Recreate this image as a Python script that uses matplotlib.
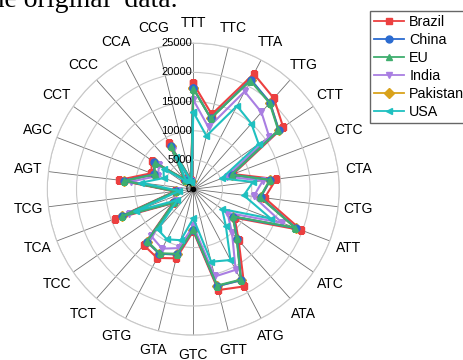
import numpy as np
import matplotlib
matplotlib.use("Agg")
import matplotlib.pyplot as plt
from matplotlib.transforms import offset_copy
from matplotlib.lines import Line2D

# codon categories, clockwise from top
codons = ["TTT", "TTC", "TTA", "TTG", "CTT", "CTC", "CTA", "CTG", "ATT", "ATC",
          "ATA", "ATG", "GTT", "GTC", "GTA", "GTG", "TCT", "TCC", "TCA", "TCG",
          "AGT", "AGC", "CCT", "CCC", "CCA", "CCG"]

brazil = [18100, 13200, 22300, 20800, 18700, 7300, 14300, 12300, 19800, 8600,
          11700, 18800, 17800, 7200, 12200, 13300, 12800, 4200, 14300, 3200,
          12900, 7700, 8600, 2300, 9000, 1600]
china = [17300, 12500, 21200, 19800, 17800, 7000, 13300, 11600, 18800, 8300,
         11300, 17600, 17100, 7000, 11500, 12500, 12000, 4000, 13100, 3000,
         12000, 7200, 8100, 2200, 8400, 1500]
eu = [17200, 12500, 21000, 19700, 17700, 7000, 13200, 11500, 18700, 8200,
      11200, 17500, 17000, 6900, 11400, 12400, 11900, 4000, 13000, 3000,
      11900, 7100, 8000, 2200, 8300, 1500]
india = [15300, 10900, 18900, 17600, 15800, 6100, 12000, 10400, 16300, 7100,
         10000, 15600, 15400, 6300, 10400, 11500, 10800, 3700, 11800, 2700,
         10800, 6400, 7200, 2000, 7600, 1400]
pakistan = [17300, 12500, 21100, 19800, 17800, 7000, 13300, 11600, 18800, 8300,
            11300, 17600, 17100, 7000, 11500, 12500, 12000, 4000, 13100, 3000,
            12000, 7200, 8100, 2200, 8400, 1500]
usa = [13200, 9400, 16100, 15000, 13600, 5200, 10300, 8700, 14200, 6000,
       8400, 13700, 12800, 5000, 9000, 9700, 9200, 3300, 10500, 2400,
       9100, 5400, 6200, 1800, 6200, 1300]

series = ["Brazil", "China", "EU", "India", "Pakistan", "USA"]
values = [brazil, china, eu, india, pakistan, usa]
colors = ["#EC4040", "#2B6BD0", "#3FAE6E", "#A97EE2", "#D9A21B", "#1FC0C0"]
markers = ["s", "o", "^", "v", "D", "<"]
layers = [3, 5, 6, 4, 2, 7]   # pakistan sits under the others
rings = [0, 5000, 10000, 15000, 20000, 25000]

n = len(codons)
theta = np.arange(n) * 2 * np.pi / n

fig = plt.figure(figsize=(4.63, 3.6), dpi=100)
ax = fig.add_axes([0.102, 0.069, 0.631, 0.811], projection="polar")
ax.set_theta_zero_location("N")
ax.set_theta_direction(-1)
ax.set_ylim(0, 25000)

for name, vals, c, m, z in zip(series, values, colors, markers, layers):
    t = np.append(theta, theta[0])
    v = np.append(vals, vals[0])
    ax.plot(t, v, color=c, marker=m, markersize=5, linewidth=1.5, label=name,
            zorder=z)

ax.set_yticks(rings[1:])
ax.set_yticklabels([])
ax.yaxis.grid(True, color="#c8c8c8", linewidth=0.8)
ax.set_xticks(theta)
ax.set_xticklabels(codons, fontsize=10, family="Liberation Sans")
ax.tick_params(axis="x", pad=4)
ax.xaxis.grid(True, color="#707070", linewidth=0.6)
ax.spines["polar"].set_color("#c8c8c8")
ax.spines["polar"].set_linewidth(0.8)

# radial labels along the top spoke
tr = offset_copy(ax.transData, fig=fig, x=-1, y=0, units="points")
for r in rings:
    ax.text(0, r, str(r), transform=tr, ha="right", va="center", fontsize=8,
            family="Liberation Sans", zorder=9)
ax.plot([0], [0], marker="o", color="black", markersize=3, zorder=9)

handles = [Line2D([0], [0], color=c, marker=m, markersize=5, linewidth=1.3)
           for c, m in zip(colors, markers)]
fig.legend(handles, series, loc="upper left",
           bbox_to_anchor=(370 / 463, 1 - 11 / 360),
           frameon=True, fancybox=False, edgecolor="#404040",
           borderpad=0.3, labelspacing=0.27, handlelength=2.1,
           handletextpad=0.35, borderaxespad=0,
           prop={"family": "Liberation Sans", "size": 10.3})

fig.text(178 / 463, 1 - 7 / 360, "the original  data.", ha="right",
         va="baseline", fontsize=20, family="Liberation Serif")

fig.savefig("out.png", dpi=100)
